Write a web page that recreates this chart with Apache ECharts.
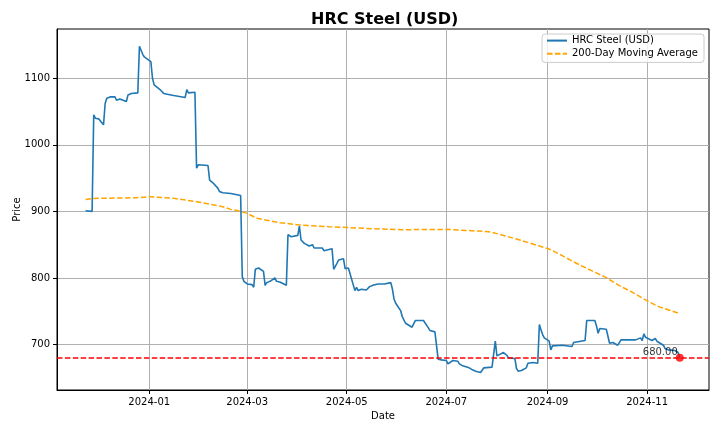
<!DOCTYPE html>
<html>
<head>
<meta charset="utf-8">
<title>HRC Steel (USD)</title>
<script src="https://cdn.jsdelivr.net/npm/echarts@6/dist/echarts.min.js"></script>
<style>
  html, body { margin: 0; padding: 0; background: #fff; }
  #chart { width: 720px; height: 432px; }
</style>
</head>
<body>
<div id="chart"></div>
<script>
// price (USD / short ton)
var priceDates = [
  '2023-11-23','2023-11-27','2023-11-28','2023-11-29','2023-11-30','2023-12-01','2023-12-04','2023-12-05',
  '2023-12-06','2023-12-07','2023-12-08','2023-12-11','2023-12-12','2023-12-13','2023-12-14','2023-12-15',
  '2023-12-18','2023-12-19','2023-12-20','2023-12-21','2023-12-22','2023-12-25','2023-12-26','2023-12-27',
  '2023-12-28','2023-12-29','2024-01-02','2024-01-03','2024-01-04','2024-01-05','2024-01-08','2024-01-09',
  '2024-01-10','2024-01-11','2024-01-12','2024-01-16','2024-01-17','2024-01-23','2024-01-24','2024-01-25',
  '2024-01-26','2024-01-29','2024-01-30','2024-01-31','2024-02-01','2024-02-06','2024-02-07','2024-02-08',
  '2024-02-09','2024-02-12','2024-02-13','2024-02-14','2024-02-15','2024-02-20','2024-02-21','2024-02-26',
  '2024-02-27','2024-02-28','2024-02-29','2024-03-01','2024-03-04','2024-03-05','2024-03-06','2024-03-07',
  '2024-03-08','2024-03-11','2024-03-12','2024-03-13','2024-03-14','2024-03-15','2024-03-18','2024-03-19',
  '2024-03-21','2024-03-22','2024-03-25','2024-03-26','2024-03-27','2024-03-28','2024-04-01','2024-04-02',
  '2024-04-03','2024-04-04','2024-04-05','2024-04-08','2024-04-09','2024-04-10','2024-04-11','2024-04-16',
  '2024-04-17','2024-04-18','2024-04-22','2024-04-23','2024-04-24','2024-04-25','2024-04-26','2024-04-29',
  '2024-04-30','2024-05-01','2024-05-02','2024-05-03','2024-05-06','2024-05-07','2024-05-08','2024-05-09',
  '2024-05-10','2024-05-13','2024-05-14','2024-05-15','2024-05-16','2024-05-17','2024-05-20','2024-05-21',
  '2024-05-22','2024-05-23','2024-05-24','2024-05-28','2024-05-29','2024-05-30','2024-05-31','2024-06-03',
  '2024-06-04','2024-06-05','2024-06-06','2024-06-07','2024-06-10','2024-06-11','2024-06-12','2024-06-13',
  '2024-06-17','2024-06-18','2024-06-20','2024-06-21','2024-06-24','2024-06-25','2024-06-26','2024-06-28',
  '2024-07-01','2024-07-02','2024-07-03','2024-07-05','2024-07-08','2024-07-09','2024-07-10','2024-07-11',
  '2024-07-12','2024-07-15','2024-07-16','2024-07-17','2024-07-18','2024-07-19','2024-07-22','2024-07-23',
  '2024-07-24','2024-07-29','2024-07-30','2024-07-31','2024-08-01','2024-08-02','2024-08-05','2024-08-06',
  '2024-08-07','2024-08-08','2024-08-12','2024-08-13','2024-08-14','2024-08-15','2024-08-16','2024-08-19',
  '2024-08-20','2024-08-21','2024-08-23','2024-08-26','2024-08-27','2024-08-28','2024-08-29','2024-08-30',
  '2024-09-02','2024-09-03','2024-09-04','2024-09-05','2024-09-10','2024-09-11','2024-09-16','2024-09-17',
  '2024-09-18','2024-09-24','2024-09-25','2024-09-30','2024-10-01','2024-10-02','2024-10-03','2024-10-07',
  '2024-10-08','2024-10-09','2024-10-10','2024-10-11','2024-10-14','2024-10-15','2024-10-16','2024-10-25',
  '2024-10-28','2024-10-29','2024-10-30','2024-10-31','2024-11-01','2024-11-04','2024-11-05','2024-11-06',
  '2024-11-07','2024-11-08','2024-11-11','2024-11-12','2024-11-13','2024-11-14','2024-11-18','2024-11-19',
  '2024-11-20','2024-11-21'
];
var priceValues = [
  901, 900, 1045, 1040, 1040, 1039, 1030, 1062,
  1070, 1071, 1072, 1072, 1067, 1068, 1069, 1069,
  1065, 1075, 1076, 1077, 1078, 1078, 1148, 1150,
  1136, 1132, 1125, 1100, 1090, 1087, 1082, 1083,
  1077, 1076, 1076, 1074, 1071, 1071, 1083, 1078,
  1078, 1079, 965, 970, 968, 969, 947, 945,
  943, 935, 930, 931, 928, 927, 924, 924,
  802, 795, 792, 791, 790, 786, 813, 815,
  815, 810, 789, 793, 794, 795, 800, 795,
  794, 793, 789, 865, 862, 862, 864, 878,
  857, 854, 852, 848, 847, 850, 845, 845,
  841, 844, 844, 813, 816, 822, 827, 829,
  814, 812, 815, 813, 781, 786, 781, 782,
  783, 782, 785, 787, 788, 789, 791, 792,
  791, 790, 791, 793, 783, 768, 762, 751,
  742, 743, 732, 729, 726, 731, 736, 737,
  736, 733, 725, 721, 719, 718, 678, 677,
  676, 671, 671, 676, 675, 671, 669, 668,
  667, 665, 664, 662, 661, 660, 658, 657,
  665, 666, 667, 705, 683, 685, 688, 686,
  684, 680, 679, 664, 660, 658, 661, 665,
  672, 673, 673, 672, 730, 722, 715, 710,
  705, 692, 698, 699, 699, 698, 697, 703,
  706, 706, 736, 736, 728, 717, 724, 723,
  720, 702, 705, 703, 699, 702, 707, 707,
  710, 706, 716, 711, 714, 706, 705, 709,
  705, 703, 699, 694, 692, 692, 691, 691,
  688, 680
];

// 200-day moving average
var maDates = [
  '2023-11-23','2023-11-28','2023-12-24','2024-01-01','2024-01-05','2024-01-16','2024-01-30','2024-02-07',
  '2024-02-15','2024-02-20','2024-02-25','2024-03-01','2024-03-07','2024-03-21','2024-04-02','2024-04-20',
  '2024-05-11','2024-05-21','2024-06-03','2024-07-01','2024-07-27','2024-08-02','2024-08-15','2024-08-27',
  '2024-09-02','2024-09-10','2024-09-16','2024-09-22','2024-09-28','2024-10-07','2024-10-15','2024-10-23',
  '2024-10-31','2024-11-08','2024-11-19','2024-11-21'
];
var maValues = [
  918, 919.5, 920.5, 922, 921.5, 919.6, 914.6, 911,
  907, 903, 900.6, 897, 889.6, 883, 879.6, 877,
  874.6, 873.6, 872.5, 873, 869.5, 866, 857, 848,
  843.5, 833.5, 825.5, 818, 811, 800.5, 788.4, 778.5,
  767, 757, 748, 747
];

var supportLevel = 680;
var xTickDates = ['2024-01-01','2024-03-01','2024-05-01','2024-07-01','2024-09-01','2024-11-01'];
var yTickValues = [700, 800, 900, 1000, 1100];

function ts(s) {
  var p = s.split('-');
  return new Date(+p[0], +p[1] - 1, +p[2]).getTime();
}
function pairs(dates, vals) {
  return dates.map(function (d, i) { return [ts(d), vals[i]]; });
}
function two(n) { return (n < 10 ? '0' : '') + n; }

var font = 'DejaVu Sans';
var xTicks = xTickDates.map(ts);
var lastDate = priceDates[priceDates.length - 1];
var dash = [5.5, 2.4];

var chart = echarts.init(document.getElementById('chart'));
chart.setOption({
  animation: false,
  backgroundColor: '#fff',
  textStyle: { fontFamily: font },
  title: {
    text: 'HRC Steel (USD)',
    left: 306,
    top: 7,
    textStyle: { fontFamily: font, fontSize: 16, fontWeight: 'bold', color: '#000' }
  },
  legend: {
    orient: 'vertical',
    right: 16,
    top: 34,
    padding: [1, 6, 3, 4],
    itemWidth: 20,
    itemHeight: 14,
    itemGap: 2,
    itemStyle: { opacity: 0 },
    backgroundColor: 'rgba(255,255,255,0.8)',
    borderColor: '#cccccc',
    borderWidth: 1,
    borderRadius: 3,
    textStyle: { fontFamily: font, fontSize: 10, color: '#000' },
    data: ['HRC Steel (USD)', '200-Day Moving Average']
  },
  grid: {
    left: 57, right: 11, top: 29, bottom: 42,
    outerBoundsMode: 'none',
    containLabel: false,
    show: true, borderColor: '#000', borderWidth: 1
  },
  xAxis: {
    // dates kept as timestamps on a plain value scale
    type: 'value',
    min: new Date(2023, 10, 5, 12).getTime(),
    max: new Date(2024, 11, 8, 22).getTime(),
    name: 'Date',
    nameLocation: 'middle',
    nameGap: 21,
    nameTextStyle: { fontFamily: font, fontSize: 10, color: '#000' },
    axisLine: { show: true, lineStyle: { color: '#000' } },
    axisTick: { show: true, length: 4, customValues: xTicks, lineStyle: { color: '#000' } },
    axisLabel: {
      customValues: xTicks,
      fontFamily: font, fontSize: 10, color: '#000', margin: 7,
      formatter: function (v) {
        var d = new Date(v);
        return d.getFullYear() + '-' + two(d.getMonth() + 1);
      }
    },
    splitLine: { show: true, lineStyle: { color: '#b0b0b0', width: 1 } }
  },
  yAxis: {
    type: 'value',
    min: 631.7,
    max: 1174,
    name: 'Price',
    nameLocation: 'middle',
    nameGap: 35,
    nameMoveOverlap: false,
    nameTextStyle: { fontFamily: font, fontSize: 10, color: '#000' },
    axisLine: { show: true, lineStyle: { color: '#000' } },
    axisTick: { show: true, length: 4, customValues: yTickValues, lineStyle: { color: '#000' } },
    axisLabel: {
      customValues: yTickValues, fontFamily: font, fontSize: 10, color: '#000', margin: 7,
      formatter: function (v) { return String(v); }
    },
    splitLine: { show: true, lineStyle: { color: '#b0b0b0', width: 1 } }
  },
  series: [
    {
      name: 'HRC Steel (USD)',
      type: 'line',
      symbol: 'none',
      color: '#1f77b4',
      lineStyle: { color: '#1f77b4', width: 1.6 },
      data: pairs(priceDates, priceValues),
      z: 3
    },
    {
      name: '200-Day Moving Average',
      type: 'line',
      symbol: 'none',
      color: '#ffa500',
      lineStyle: { color: '#ffa500', width: 1.5, type: dash },
      data: pairs(maDates, maValues),
      z: 2,
      markLine: {
        silent: true,
        symbol: ['none', 'none'],
        label: { show: false },
        lineStyle: { color: '#ff0000', width: 1.5, type: dash },
        data: [{ yAxis: supportLevel }]
      }
    },
    {
      name: 'last',
      type: 'scatter',
      symbol: 'circle',
      symbolSize: 8,
      itemStyle: { color: '#ff0000' },
      z: 4,
      label: {
        show: true,
        position: [2, 4],
        align: 'right',
        verticalAlign: 'bottom',
        fontFamily: font,
        fontSize: 10,
        color: '#000',
        formatter: function () { return supportLevel.toFixed(2); }
      },
      data: [[ts(lastDate), supportLevel]]
    }
  ]
});
</script>
</body>
</html>
